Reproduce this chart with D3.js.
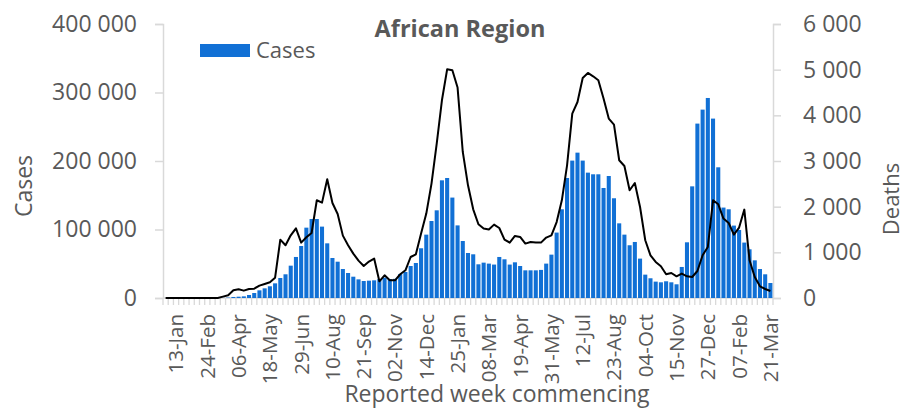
<!DOCTYPE html>
<html>
<head>
<meta charset="utf-8">
<script src="https://cdn.jsdelivr.net/npm/d3@7"></script>
<style>
  body { margin: 0; background: #fff; }
  text { font-family: "Open Sans", "Noto Sans", sans-serif; fill: #595959; }
</style>
</head>
<body>
<div id="chart"></div>
<script>
// weekly categories, first week commencing 30-Dec-2019
var firstWeek = new Date(2019, 11, 30)
var weekCount = 117

var tickLabels = ['13-Jan', '24-Feb', '06-Apr', '18-May', '29-Jun', '10-Aug', '21-Sep', '02-Nov', '14-Dec', '25-Jan',
    '08-Mar', '19-Apr', '31-May', '12-Jul', '23-Aug', '04-Oct', '15-Nov', '27-Dec', '07-Feb', '21-Mar']

// weekly cases
var cases = [
    0, 0, 0, 0, 0, 0, 0, 0, 0, 0,
    0, 200, 600, 1500, 1900, 2400, 4400, 7300, 11200, 14100,
    17100, 21400, 29200, 34600, 47200, 59900, 75900, 102700, 115300, 115300,
    104200, 79800, 58400, 53000, 42300, 36500, 31100, 27200, 24800, 25300,
    25800, 27700, 29700, 27700, 28000, 35000, 38000, 46700, 51100, 72600,
    92500, 112400, 128000, 171800, 175200, 146600, 106000, 83200, 65700, 63800,
    49200, 51600, 50200, 48800, 59900, 56500, 48800, 52100, 46700, 40400,
    40400, 40400, 41000, 50200, 63300, 95500, 129500, 175200, 200600, 212200,
    200600, 183000, 180600, 180600, 160600, 178100, 145600, 109000, 92500, 77000,
    81800, 57500, 34100, 28800, 23900, 22900, 24400, 22900, 20000, 45300,
    81300, 163000, 254600, 275000, 292000, 261900, 190800, 132000, 129500, 105700,
    99300, 80900, 71100, 55000, 42300, 34600, 21900
]

// weekly deaths
var deaths = [
    0, 0, 0, 0, 0, 0, 0, 0, 0, 0,
    0, 30, 59, 169, 190, 161, 197, 205, 271, 307,
    344, 446, 1278, 1154, 1373, 1526, 1212, 1329, 1424, 2140,
    2089, 2600, 2081, 1840, 1366, 1154, 972, 819, 701, 797,
    863, 366, 497, 388, 388, 520, 607, 898, 957, 1410,
    1848, 2505, 3381, 4330, 5008, 4987, 4608, 3198, 2468, 1942,
    1614, 1520, 1498, 1607, 1533, 1279, 1213, 1358, 1336, 1191,
    1226, 1213, 1213, 1323, 1373, 1664, 2140, 2906, 4038, 4292,
    4818, 4928, 4855, 4768, 4367, 3929, 3797, 3016, 2891, 2359,
    2519, 1993, 1264, 935, 789, 694, 519, 548, 475, 534,
    475, 460, 591, 935, 1117, 2140, 2052, 1739, 1643, 1388,
    1542, 1936, 826, 460, 256, 197, 153
]

var casesTicks = [0, 100000, 200000, 300000, 400000]
var deathsTicks = [0, 1000, 2000, 3000, 4000, 5000, 6000]

var W = 907, H = 409
var plot = { left: 163, right: 773, top: 24, bottom: 298 }
var axisColor = '#d9d9d9'
var barColor = '#1170d5'

var fmtDay = d3.timeFormat('%d-%b')
var weeks = d3.range(weekCount).map(i => fmtDay(d3.timeWeek.offset(firstWeek, i)))

var locale = d3.formatLocale({ decimal: '.', thousands: '\u00a0', grouping: [3], currency: ['', ''] })
var fmtNum = locale.format(',')

var svg = d3.select('#chart').append('svg')
    .attr('width', W)
    .attr('height', H)

var x = d3.scaleBand()
    .domain(d3.range(weekCount))
    .range([plot.left, plot.right])
    .paddingInner(0.22)
    .paddingOuter(0.11)

var yCases = d3.scaleLinear().domain([0, 400000]).range([plot.bottom, plot.top])
var yDeaths = d3.scaleLinear().domain([0, 6000]).range([plot.bottom, plot.top])

// -------------------------------------
// Axes
// -------------------------------------

var leftAxis = svg.append('g')
    .attr('transform', `translate(${plot.left},0)`)
    .call(d3.axisLeft(yCases).tickValues(casesTicks).tickSize(8).tickPadding(18).tickFormat(fmtNum))

var rightAxis = svg.append('g')
    .attr('transform', `translate(${plot.right},0)`)
    .call(d3.axisRight(yDeaths).tickValues(deathsTicks).tickSize(8).tickPadding(22).tickFormat(fmtNum))

;[leftAxis, rightAxis].forEach(function (g) {
    g.select('.domain').attr('stroke', axisColor).attr('stroke-width', 1.5)
    g.selectAll('.tick line').attr('stroke', axisColor).attr('stroke-width', 1.5)
    g.selectAll('.tick text')
        .attr('fill', '#595959')
        .style('font-size', '23px')
        .style('font-family', '"Open Sans", sans-serif')
})

// category axis: baseline, ticks between categories, every 6th label
svg.append('line')
    .attr('x1', plot.left).attr('x2', plot.right)
    .attr('y1', plot.bottom).attr('y2', plot.bottom)
    .attr('stroke', axisColor).attr('stroke-width', 1.5)

var step = x.step()
var gap = step * x.paddingInner() / 2
svg.append('g').selectAll('line')
    .data(d3.range(weekCount + 1))
    .enter().append('line')
    .attr('x1', i => i < weekCount ? x(i) - gap : x(i - 1) + x.bandwidth() + gap)
    .attr('x2', i => i < weekCount ? x(i) - gap : x(i - 1) + x.bandwidth() + gap)
    .attr('y1', plot.bottom)
    .attr('y2', plot.bottom + 7)
    .attr('stroke', axisColor)
    .attr('stroke-width', 1.3)

svg.append('g').selectAll('text')
    .data(tickLabels)
    .enter().append('text')
    .attr('transform', d => `translate(${x(weeks.indexOf(d)) + x.bandwidth() / 2},${plot.bottom + 16}) rotate(-90)`)
    .attr('text-anchor', 'end')
    .attr('dy', '0.36em')
    .style('font-size', '20.5px')
    .text(d => d)

// -------------------------------------
// Series
// -------------------------------------

svg.append('g').selectAll('rect')
    .data(cases)
    .enter().append('rect')
    .attr('x', (d, i) => x(i))
    .attr('width', x.bandwidth())
    .attr('y', d => yCases(d))
    .attr('height', d => plot.bottom - yCases(d))
    .attr('fill', barColor)

svg.append('path')
    .datum(deaths)
    .attr('fill', 'none')
    .attr('stroke', '#000')
    .attr('stroke-width', 2)
    .attr('stroke-linejoin', 'round')
    .attr('d', d3.line()
        .x((d, i) => x(i) + x.bandwidth() / 2)
        .y(d => yDeaths(d)))

// -------------------------------------
// Titles and legend
// -------------------------------------

svg.append('text')
    .attr('x', 460).attr('y', 37)
    .attr('text-anchor', 'middle')
    .style('font-size', '23.5px')
    .style('font-weight', 'bold')
    .text('African Region')

svg.append('rect')
    .attr('x', 200).attr('y', 44)
    .attr('width', 50).attr('height', 13)
    .attr('fill', barColor)

svg.append('text')
    .attr('x', 256).attr('y', 58)
    .style('font-size', '22px')
    .text('Cases')

svg.append('text')
    .attr('transform', 'translate(32,186) rotate(-90)')
    .attr('text-anchor', 'middle')
    .style('font-size', '23px')
    .text('Cases')

svg.append('text')
    .attr('transform', 'translate(899,199) rotate(-90)')
    .attr('text-anchor', 'middle')
    .style('font-size', '22px')
    .text('Deaths')

svg.append('text')
    .attr('x', 497).attr('y', 402)
    .attr('text-anchor', 'middle')
    .style('font-size', '23px')
    .text('Reported week commencing')
</script>
</body>
</html>
